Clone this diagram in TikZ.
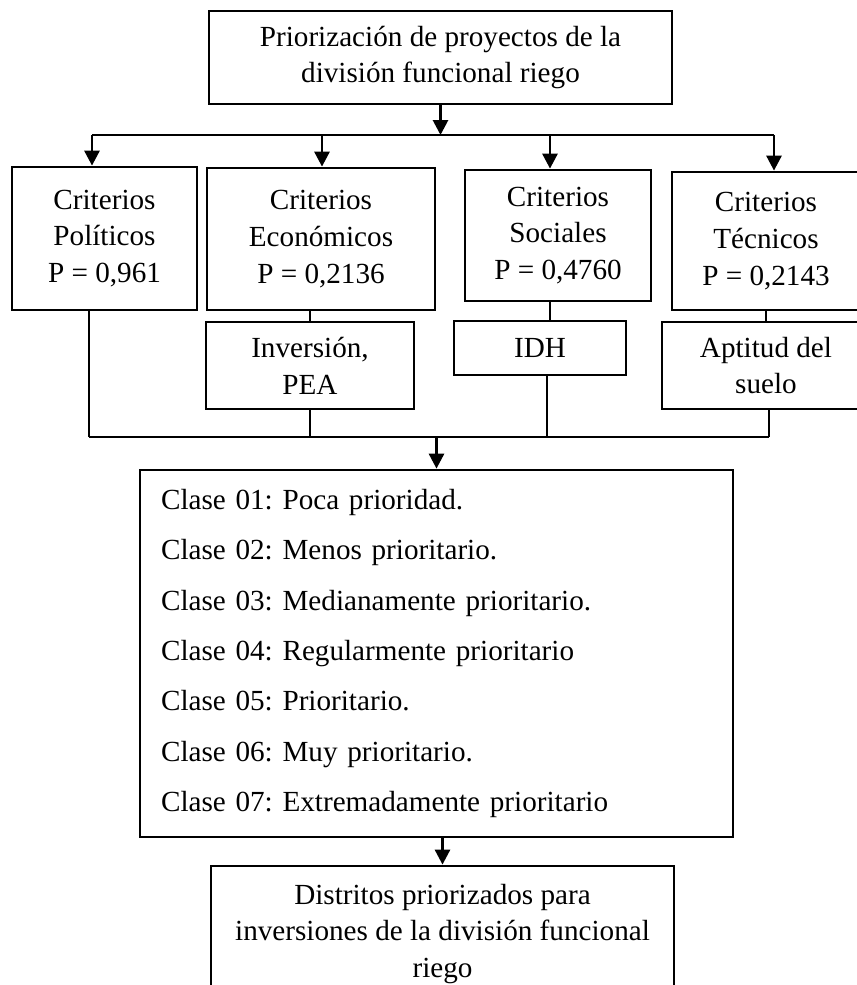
\documentclass[tikz,border=0pt]{standalone}
\usepackage{fontspec}
\setmainfont{Liberation Serif}
\usetikzlibrary{arrows.meta}
\frenchspacing

\begin{document}
\begin{tikzpicture}[x=0.02cm,y=-0.02cm,
		caja/.style={draw,line width=1.6pt,align=center,inner sep=0pt,font=\fontsize{16.6}{21}\selectfont},
		linea/.style={line width=1.6pt},
		flecha/.style={linea,-{Triangle[length=0.3cm,width=0.3cm]}}]
			\useasboundingbox (0,0) rectangle (857,985);
			\node[caja,minimum width=9.26cm,minimum height=1.86cm] (raiz) at (440.5,57.5) {Priorización de proyectos de la\\división funcional riego};
			\node[caja,minimum width=3.7cm,minimum height=2.86cm] (pol) at (104.5,238.5) {Criterios\\Políticos\\P = 0,961};
			\node[caja,minimum width=4.56cm,minimum height=2.84cm] (eco) at (321,239) {Criterios\\Económicos\\P = 0,2136};
			\node[caja,minimum width=3.72cm,minimum height=2.62cm] (soc) at (558,235.5) {Criterios\\Sociales\\P = 0,4760};
			\node[caja,minimum width=3.76cm,minimum height=2.76cm] (tec) at (766,241) {Criterios\\Técnicos\\P = 0,2143};
			\node[caja,minimum width=4.16cm,minimum height=1.74cm] (inv) at (310,365.5) {Inversión,\\PEA};
			\node[caja,minimum width=3.44cm,minimum height=1.08cm] (idh) at (540,348) {IDH};
			\node[caja,minimum width=4.16cm,minimum height=1.74cm] (apt) at (766,365.5) {Aptitud del\\suelo};
			\node[caja,minimum width=11.86cm,minimum height=7.34cm,text width=11.02cm,align=left,font=\fontsize{16.6}{28.7}\selectfont] (clases) at (436.5,653.5) {Clase 01: Poca prioridad.\\Clase 02: Menos prioritario.\\Clase 03: Medianamente prioritario.\\Clase 04: Regularmente prioritario\\Clase 05: Prioritario.\\Clase 06: Muy prioritario.\\Clase 07: Extremadamente prioritario};
			\node[caja,minimum width=9.26cm,minimum height=2.72cm] (distritos) at (442.5,934) {Distritos priorizados para\\inversiones de la división funcional\\riego};
			\foreach \n/\x in {pol/92,eco/322,soc/550,tec/774}{
				\coordinate (b\n) at (\x,135);
				\draw[flecha] (b\n) -- (b\n |- \n.north);
			}
			\draw[linea] (bpol) -- (btec);
			\draw[flecha] (raiz.south) -- (raiz.south |- btec);
			\draw[linea] (inv.north |- eco.south) -- (inv.north);
			\draw[linea] (bsoc |- soc.south) -- (bsoc |- idh.north);
			\draw[linea] (tec.south) -- (tec.south |- apt.north);
			\coordinate (cpol) at (89,437);
			\coordinate (cidh) at (547,437);
			\coordinate (capt) at (769,437);
			\draw[linea] (cpol |- pol.south) -- (cpol);
			\draw[linea] (inv.south) -- (inv.south |- cpol);
			\draw[linea] (cidh |- idh.south) -- (cidh);
			\draw[linea] (capt |- apt.south) -- (capt);
			\draw[linea] (cpol) -- (capt);
			\draw[flecha] (clases.north |- cpol) -- (clases.north);
			\draw[flecha] (clases.south -| distritos.north) -- (distritos.north);
		\end{tikzpicture}
\end{document}
